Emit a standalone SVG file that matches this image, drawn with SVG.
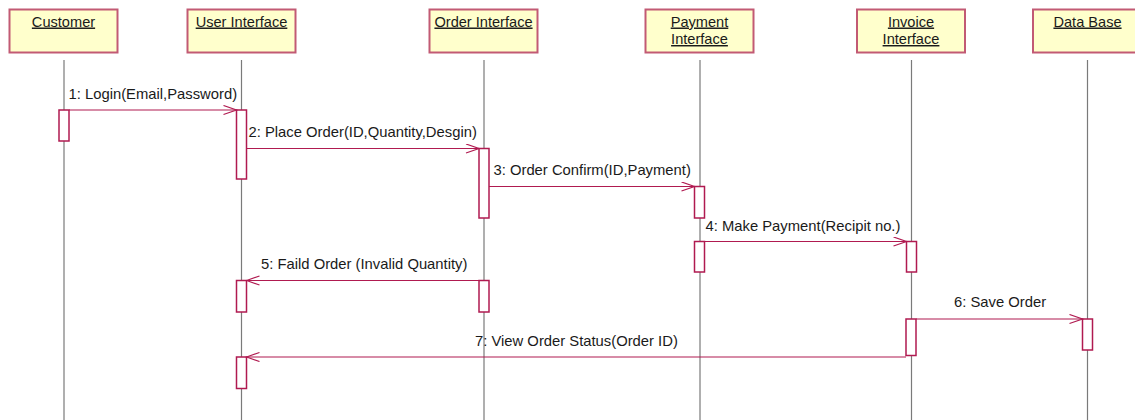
<svg xmlns="http://www.w3.org/2000/svg" width="1135" height="420" viewBox="0 0 1135 420">
<style>
.obj rect{fill:#ffffcc;stroke:#c25a74;stroke-width:2}
.obj text{font-family:"Liberation Sans",Arial,sans-serif;font-size:14.6px;fill:#1a1a1a;text-anchor:middle;text-decoration:underline}
.life{stroke:#7a7a7a;stroke-width:1.2}
.act{fill:#ffffff;stroke:#b01a50;stroke-width:1.5}
.msg{stroke:#b01a50;stroke-width:1.2;fill:none}
.lbl{font-family:"Liberation Sans",Arial,sans-serif;font-size:14.8px;fill:#1a1a1a}
</style>
<defs>
<marker id="open" markerWidth="16" markerHeight="12" refX="14" refY="5" orient="auto" markerUnits="userSpaceOnUse">
<path d="M1,0.5 L14,5 L1,9.5" fill="none" stroke="#b01a50" stroke-width="1.2"/>
</marker>
</defs>
<g id="lifelines">
<line class="life" x1="64" y1="60" x2="64" y2="420"/>
<line class="life" x1="241.5" y1="60" x2="241.5" y2="420"/>
<line class="life" x1="484" y1="60" x2="484" y2="420"/>
<line class="life" x1="700" y1="60" x2="700" y2="420"/>
<line class="life" x1="911.5" y1="60" x2="911.5" y2="420"/>
<line class="life" x1="1087.5" y1="60" x2="1087.5" y2="420"/>
</g>
<g id="customer" class="obj"><rect x="9.5" y="9.5" width="108" height="43"/><text x="63.5" y="26.5">Customer</text></g>
<g id="user-interface" class="obj"><rect x="187.5" y="9.5" width="108" height="43"/><text x="241.5" y="26.5">User Interface</text></g>
<g id="order-interface" class="obj"><rect x="429.5" y="9.5" width="108" height="43"/><text x="483.5" y="26.5">Order Interface</text></g>
<g id="payment-interface" class="obj"><rect x="645.5" y="9.5" width="108" height="43"/><text x="699.5" y="26.5">Payment </text><text x="699.5" y="44">Interface</text></g>
<g id="invoice-interface" class="obj"><rect x="857" y="9.5" width="108" height="43"/><text x="911" y="26.5">Invoice </text><text x="911" y="44">Interface</text></g>
<g id="data-base" class="obj"><rect x="1033" y="9.5" width="108" height="43"/><text x="1087.5" y="26.5">Data Base</text></g>
<g id="activations">
<rect class="act" x="59" y="110" width="10" height="31"/>
<rect class="act" x="236.5" y="110" width="10" height="69"/>
<rect class="act" x="479" y="148.5" width="10" height="69.5"/>
<rect class="act" x="694.5" y="186.5" width="10" height="31.5"/>
<rect class="act" x="694.5" y="241.5" width="10" height="30.5"/>
<rect class="act" x="906.5" y="241.5" width="10" height="30.5"/>
<rect class="act" x="236.5" y="280.5" width="10" height="31.5"/>
<rect class="act" x="479" y="280.5" width="10" height="31.5"/>
<rect class="act" x="906" y="319" width="10" height="36.5"/>
<rect class="act" x="1082.5" y="319" width="10" height="31"/>
<rect class="act" x="236.5" y="357" width="10" height="31.5"/>
</g>
<g id="connectors">
<line class="msg" x1="69" y1="110" x2="236.5" y2="110" marker-end="url(#open)"/>
<line class="msg" x1="246.5" y1="148.5" x2="479" y2="148.5" marker-end="url(#open)"/>
<line class="msg" x1="489" y1="186.5" x2="694.5" y2="186.5" marker-end="url(#open)"/>
<line class="msg" x1="704.5" y1="241.5" x2="906.5" y2="241.5" marker-end="url(#open)"/>
<line class="msg" x1="479" y1="280.5" x2="246.5" y2="280.5" marker-end="url(#open)"/>
<line class="msg" x1="916" y1="319" x2="1082.5" y2="319" marker-end="url(#open)"/>
<line class="msg" x1="906" y1="357" x2="246.5" y2="357" marker-end="url(#open)"/>
</g>
<g id="labels">
<text class="lbl" x="68.5" y="99">1: Login(Email,Password)</text>
<text class="lbl" x="248.5" y="136.5">2: Place Order(ID,Quantity,Desgin)</text>
<text class="lbl" x="493.5" y="175">3: Order Confirm(ID,Payment)</text>
<text class="lbl" x="705.5" y="230.5">4: Make Payment(Recipit no.)</text>
<text class="lbl" x="261" y="269">5: Faild Order (Invalid Quantity)</text>
<text class="lbl" x="954" y="307">6: Save Order</text>
<text class="lbl" x="475" y="346">7: View Order Status(Order ID)</text>
</g>
</svg>
